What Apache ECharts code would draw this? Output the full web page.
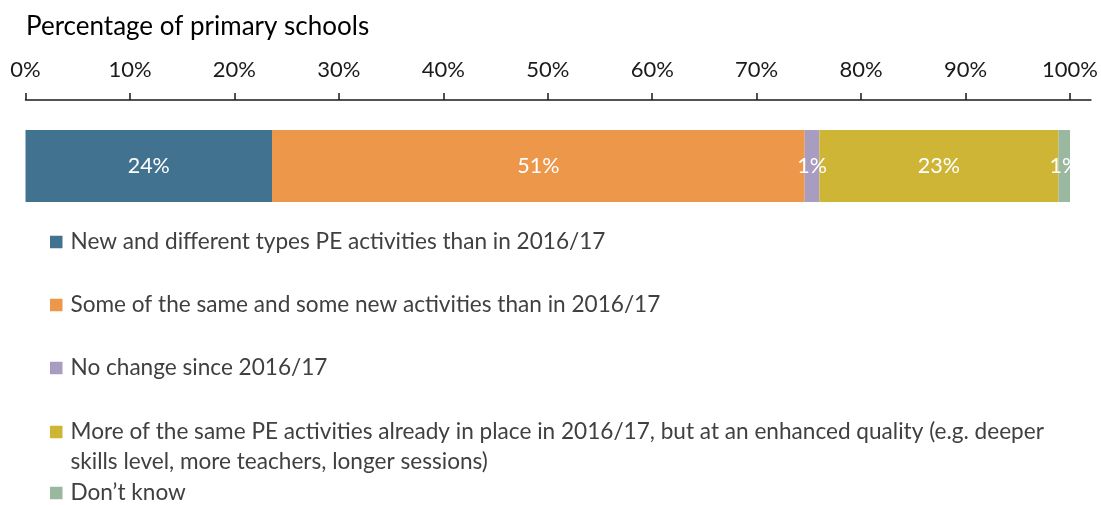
<!DOCTYPE html>
<html>
<head>
<meta charset="utf-8">
<script src="https://cdn.jsdelivr.net/npm/echarts@6/dist/echarts.min.js"></script>
<style>
  html, body { margin: 0; padding: 0; background: #fff; }
  #chart { width: 1101px; height: 505px; }
</style>
</head>
<body>
<div id="chart"></div>
<script>
// answers, one stacked bar
var categories = ['Primary schools']
var seriesNames = [
  'New and different types PE activities than in 2016/17',
  'Some of the same and some new activities than in 2016/17',
  'No change since 2016/17',
  'More of the same PE activities already in place in 2016/17, but at an enhanced quality (e.g. deeper skills level, more teachers, longer sessions)',
  'Don\u2019t know'
]
var seriesValues = [23.6, 51.0, 1.4, 22.9, 1.1]
var tickValues = [0, 10, 20, 30, 40, 50, 60, 70, 80, 90, 100]

var colors = ['#41728f', '#ed974a', '#a99cc1', '#ceb536', '#9ab79f']
var font = 'Lato'

// legend rows, each its own legend so the gaps match the picture
var legendTops = [227, 290, 353, 387, 478]

var legends = seriesNames.map(function (name, i) {
  var long = i === 3
  return {
    data: [name],
    left: 50,
    top: legendTops[i],
    padding: 0,
    itemWidth: 12.5,
    itemHeight: 12.5,
    icon: 'rect',
    selectedMode: false,
    formatter: function (n) {
      if (!long) return n
      // empty first line keeps the marker level with the first text line
      return '\n' + n.replace(' skills level', '\nskills level')
    },
    textStyle: {
      fontFamily: font,
      fontSize: 22.6,
      color: '#404040',
      lineHeight: 30,
      padding: [0, 0, 0, 3]
    }
  }
})

var series = seriesNames.map(function (name, i) {
  return {
    name: name,
    type: 'bar',
    stack: 'total',
    barWidth: 72,
    data: [seriesValues[i]],
    itemStyle: { color: colors[i] },
    label: {
      show: true,
      position: 'inside',
      color: '#fff',
      fontFamily: font,
      fontSize: 21.5,
      formatter: function (p) { return Math.round(p.value) + '%' }
    }
  }
})

var chart = echarts.init(document.getElementById('chart'))
chart.setOption({
  animation: false,
  color: colors,
  title: {
    text: 'Percentage of primary schools',
    left: 21,
    top: 9,
    textStyle: { fontFamily: font, fontSize: 26, fontWeight: 'normal', color: '#000' }
  },
  legend: legends,
  grid: { left: 25.5, right: 9, top: 100, height: 132 },
  xAxis: {
    type: 'value',
    position: 'top',
    min: 0,
    max: 102,
    interval: 10,
    splitLine: { show: false },
    axisLine: { show: true, lineStyle: { color: '#1a1a1a', width: 1.5 } },
    axisTick: { show: true, length: 7, customValues: tickValues, lineStyle: { color: '#1a1a1a', width: 1.5 } },
    axisLabel: {
      customValues: tickValues,
      margin: 19,
      fontFamily: font,
      fontSize: 22,
      color: '#1a1a1a',
      formatter: '{value}%'
    }
  },
  yAxis: {
    type: 'category',
    data: categories,
    show: false
  },
  series: series
})
</script>
</body>
</html>
